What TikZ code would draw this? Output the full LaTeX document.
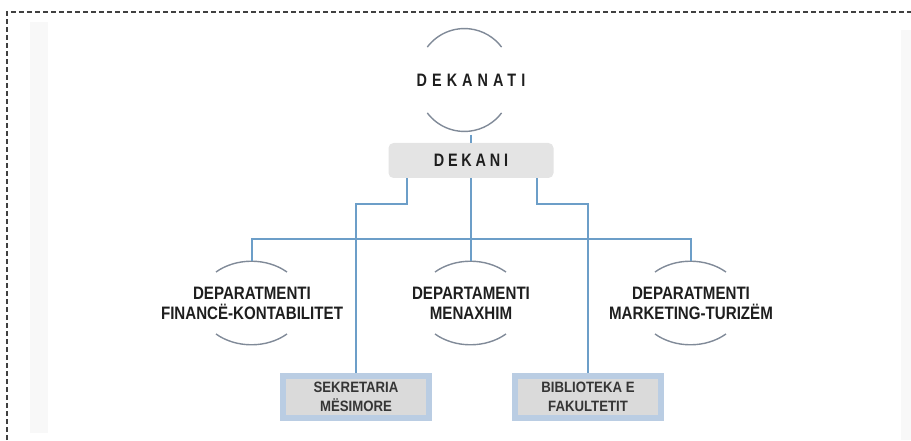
\documentclass[tikz,border=0pt]{standalone}
\usepackage{fontspec}
\setmainfont{Liberation Sans}
\usepackage{tikz}

\definecolor{linkblue}{RGB}{108,158,200}
\definecolor{bowgray}{RGB}{128,138,152}
\definecolor{chiefgray}{RGB}{228,228,228}
\definecolor{unitblue}{RGB}{186,205,227}
\definecolor{unitgray}{RGB}{218,218,218}
\definecolor{inkdark}{RGB}{30,30,30}
\definecolor{stripgray}{RGB}{248,248,248}

\begin{document}
\begin{tikzpicture}[x=1pt,y=1pt]
\tikzset{head/.style = {shape=circle,minimum size=93pt,inner sep=0pt,text=inkdark,font=\fontsize{18}{20}\selectfont\bfseries\addfontfeature{FakeStretch=0.8,LetterSpace=28}}}
\tikzset{chief/.style = {shape=rectangle,rounded corners=5pt,fill=chiefgray,minimum width=165pt,minimum height=35pt,inner sep=0pt,text=inkdark,font=\fontsize{18}{20}\selectfont\bfseries\addfontfeature{FakeStretch=0.8,LetterSpace=21}}}
\tikzset{dept/.style = {shape=rectangle,minimum height=84pt,inner sep=0pt,align=center,text=inkdark,font=\fontsize{18}{20}\selectfont\bfseries\addfontfeature{FakeStretch=0.84}}}
\tikzset{unit/.style = {shape=rectangle,draw=unitblue,fill=unitgray,line width=6pt,minimum width=146pt,minimum height=42pt,inner sep=0pt,align=center,text=inkdark!90,font=\fontsize{15}{19}\selectfont\bfseries\addfontfeature{FakeStretch=0.88}}}
\tikzset{edge/.style = {draw=linkblue,line width=1.8pt}}
\tikzset{bow/.style = {draw=bowgray,line width=1.4pt}}
\tikzset{frame/.style = {draw=black!75,line width=1.2pt,dash pattern=on 5pt off 3pt}}

\useasboundingbox (0,0) rectangle (911,440);

% page

\fill[stripgray] (30,7) rectangle (48,418);
\fill[stripgray] (901,0) rectangle (911,410);
\draw[frame] (7,0) -- (7,428) -- (911,428);

% vertices

\node[head] (dekanati) at (471,360) {DEKANATI};
\node[chief] (dekani) at (471,279.5) {DEKANI};

\node[dept] (fin) at (252,137) {DEPARATMENTI\\FINANCË-KONTABILITET};
\node[dept] (men) at (471,137) {DEPARTAMENTI\\MENAXHIM};
\node[dept] (mkt) at (691,137) {DEPARATMENTI\\MARKETING-TURIZËM};

\node[unit] (sekr) at (356,43) {SEKRETARIA\\MËSIMORE};
\node[unit] (bibl) at (588,43) {BIBLIOTEKA E\\FAKULTETIT};

% bows

\draw[bow] (dekanati.143) arc[start angle=143,end angle=37,radius=46.5];
\draw[bow] (dekanati.217) arc[start angle=217,end angle=323,radius=46.5];

\draw[bow] ([shift={(-36,31)}]fin.center) arc[start angle=132,end angle=48,x radius=53,y radius=42];
\draw[bow] ([shift={(-36,-31)}]fin.center) arc[start angle=228,end angle=312,x radius=53,y radius=42];
\draw[bow] ([shift={(-36,31)}]men.center) arc[start angle=132,end angle=48,x radius=53,y radius=42];
\draw[bow] ([shift={(-36,-31)}]men.center) arc[start angle=228,end angle=312,x radius=53,y radius=42];
\draw[bow] ([shift={(-36,31)}]mkt.center) arc[start angle=132,end angle=48,x radius=53,y radius=42];
\draw[bow] ([shift={(-36,-31)}]mkt.center) arc[start angle=228,end angle=312,x radius=53,y radius=42];

% edges

\draw[edge] (dekanati) -- (dekani);
\draw[edge] (dekani) -- (men.north);
\draw[edge] (fin.north) -- ++(0,22) -| (mkt.north);
\draw[edge] ([xshift=-64pt]dekani.south) -- ++(0,-26) -| (sekr.north);
\draw[edge] ([xshift=66pt]dekani.south) -- ++(0,-26) -| (bibl.north);
\end{tikzpicture}
\end{document}
